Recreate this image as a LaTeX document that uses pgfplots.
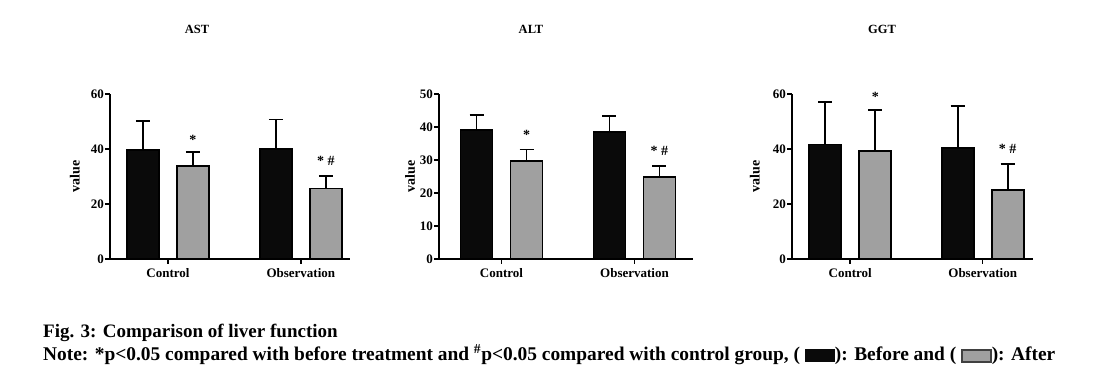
\documentclass[border=0pt]{standalone}
\usepackage{fontspec}
\setmainfont{Liberation Serif}
\usepackage{pgfplots}
\pgfplotsset{compat=1.18}
\definecolor{barGray}{HTML}{A0A0A0}
\definecolor{barBlack}{HTML}{0A0A0A}

\pgfplotsset{
  panel/.style={
    scale only axis, height=165pt, ymin=0,
    ybar=18pt, bar width=32pt,
    axis lines=left, axis line style={line width=1.6pt, -},
    xtick={0,1}, xticklabels={Control,Observation},
    tick style={line width=1.6pt, black},
    tick align=outside, major tick length=5pt,
    minor tick num=0,
    /pgf/number format/assume math mode=true,
    tick label style={font=\fontsize{13}{13}\selectfont\bfseries},
    yticklabel style={inner xsep=1pt},
    xticklabel style={yshift=-1pt},
    ylabel={value},
    ylabel style={font=\fontsize{14}{14}\selectfont\bfseries, anchor=center},
    clip=false,
  },
  errs/.style={error bars/.cd, y dir=plus, y explicit,
    error bar style={line width=1.8pt, draw=black, solid},
    error mark options={rotate=90, line width=1.8pt, mark size=7pt, draw=black}},
  before/.style={fill=barBlack, draw=black, line width=1.7pt, errs},
  after/.style={fill=barGray, draw=black, line width=1.7pt, errs},
}
\tikzset{sig/.style={font=\fontsize{14}{14}\selectfont\bfseries, anchor=base, xshift=25pt}}

\begin{document}
\begin{tikzpicture}[x=1pt,y=1pt]
\useasboundingbox (0,0) rectangle (1108,371);

% ---------------- AST ----------------
\begin{axis}[panel, at={(110pt,112pt)}, anchor=south west,
  width=240pt, xmin=-0.436, xmax=1.37, ymax=60, ytick={0,20,40,60},
  ylabel style={at={(axis description cs:-0.146,0.5)}}]
\addplot[before] coordinates {(0,39.6) +- (0,10.7) (1,40.0) +- (0,10.7)};
\addplot[after] coordinates {(0,33.7) +- (0,5.3) (1,25.6) +- (0,4.5)};
\node[sig, yshift=7pt] at (axis cs:0,39.0) {*};
\node[sig, yshift=11pt] at (axis cs:1,30.1) {* \#};
\end{axis}

% ---------------- ALT ----------------
\begin{axis}[panel, at={(439pt,112pt)}, anchor=south west,
  width=254pt, xmin=-0.47, xmax=1.44, ymax=50, ytick={0,10,20,30,40,50},
  ylabel style={at={(axis description cs:-0.114,0.5)}}]
\addplot[before] coordinates {(0,39.1) +- (0,4.5) (1,38.5) +- (0,4.9)};
\addplot[after] coordinates {(0,29.7) +- (0,3.5) (1,24.8) +- (0,3.3)};
\node[sig, yshift=10pt] at (axis cs:0,33.2) {*};
\node[sig, yshift=11pt] at (axis cs:1,28.1) {* \#};
\end{axis}

% ---------------- GGT ----------------
\begin{axis}[panel, at={(792pt,112pt)}, anchor=south west,
  width=241pt, xmin=-0.44, xmax=1.38, ymax=60, ytick={0,20,40,60},
  ylabel style={at={(axis description cs:-0.154,0.5)}}]
\addplot[before] coordinates {(0,41.6) +- (0,15.4) (1,40.4) +- (0,15.2)};
\addplot[after] coordinates {(0,39.2) +- (0,15.0) (1,25.1) +- (0,9.4)};
\node[sig, yshift=8pt] at (axis cs:0,54.2) {*};
\node[sig, yshift=11pt] at (axis cs:1,34.5) {* \#};
\end{axis}

% titles
\node[font=\fontsize{12.5}{12.5}\selectfont\bfseries] at (197,342) {AST};
\node[font=\fontsize{12.5}{12.5}\selectfont\bfseries] at (531,342) {ALT};
\node[font=\fontsize{12.5}{12.5}\selectfont\bfseries] at (882,342) {GGT};

% caption
\node[anchor=base west, inner sep=0pt, font=\fontsize{19}{19}\selectfont\bfseries] at (43,33)
  {Fig. 3: Comparison of liver function};
\node[anchor=base west, inner sep=0pt, font=\fontsize{19.4}{19.4}\selectfont\bfseries] at (43,10)
  {Note: *p<0.05 compared with before treatment and \textsuperscript{\#}p<0.05 compared with control group, ( \textcolor{barBlack}{\rule[-1pt]{30pt}{13pt}}): Before and ( {\setlength{\fboxsep}{0pt}\setlength{\fboxrule}{1.8pt}\fcolorbox{black!75}{barGray}{\rule[0pt]{0pt}{10pt}\hspace{27pt}}}): After};
\end{tikzpicture}
\end{document}
